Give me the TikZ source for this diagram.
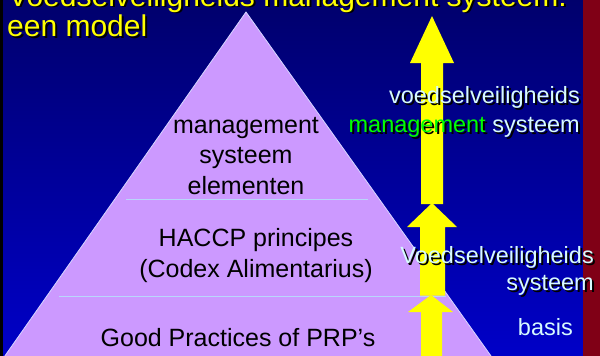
\documentclass[tikz,border=0pt]{standalone}
\usepackage{fontspec}
\setmainfont{Liberation Sans}
\definecolor{bgtop}{RGB}{0,0,108}
\definecolor{bgbot}{RGB}{0,0,200}
\definecolor{stripred}{RGB}{128,0,22}
\definecolor{pyrfill}{RGB}{204,153,255}
\definecolor{pyredge}{RGB}{215,215,255}
\definecolor{divline}{RGB}{185,215,250}
\definecolor{arrowyel}{RGB}{255,255,0}
\definecolor{titleyel}{RGB}{255,255,0}
\definecolor{lblcyan}{RGB}{215,250,255}
\definecolor{lblgreen}{RGB}{0,255,0}
\tikzset{
  ttl/.style={font=\fontsize{30}{36}\selectfont, text=titleyel, anchor=base west, inner sep=0pt},
  lbl/.style={font=\fontsize{23.5}{28}\selectfont, text=lblcyan, anchor=base east, inner sep=0pt},
  pyrtext/.style={font=\fontsize{25}{30}\selectfont, text=black, anchor=base, inner sep=0pt},
  shd/.style={text=black, xshift=2pt, yshift=-2pt},
  uparrow/.style={fill=arrowyel, draw=none},
  divider/.style={draw=divline, line width=0.8pt}
}
\begin{document}
\begin{tikzpicture}[x=1pt,y=-1pt]
\useasboundingbox (0,0) rectangle (600,356);
\begin{scope}
\clip (0,0) rectangle (600,356);
% background
\shade[top color=bgtop, bottom color=bgbot] (0,0) rectangle (600,356);
\fill[black] (0,0) rectangle (3,356);
\fill[stripred] (583,0) rectangle (600,356);
% pyramid
\filldraw[fill=pyrfill, draw=pyredge, line width=0.8pt] (246,12) -- (501,370) -- (-5,370) -- cycle;
\draw[divider] (126,199) -- (368,199);
\draw[divider] (59,296) -- (446,296);
% arrows
\fill[uparrow] (432,16) -- (454,63) -- (443,63) -- (443,204) -- (421,204) -- (421,63) -- (410,63) -- cycle;
\fill[uparrow] (432,203) -- (457,227) -- (445,227) -- (445,295.5) -- (420,295.5) -- (420,227) -- (407,227) -- cycle;
\fill[uparrow] (431,295) -- (453,312) -- (442,312) -- (442,360) -- (421,360) -- (421,312) -- (408,312) -- cycle;
% pyramid texts
\node[pyrtext] (m1) at (246,133) {management};
\node[pyrtext] (m2) at (246,163.5) {systeem};
\node[pyrtext] (m3) at (246,194) {elementen};
\node[pyrtext] (h1) at (256,246) {HACCP principes};
\node[pyrtext] (h2) at (256,277) {(Codex Alimentarius)};
\node[pyrtext] (g1) at (238,346) {Good Practices of PRP’s};
% title
\node[ttl, shd] (t1s) at (8,6) {Voedselveiligheids management systeem:};
\node[ttl] (t1) at (8,6) {Voedselveiligheids management systeem:};
\node[ttl, shd] (t2s) at (7,36) {een model};
\node[ttl] (t2) at (7,36) {een model};
% right labels
\node[lbl, shd] (r1s) at (580,103) {voedselveiligheids};
\node[lbl] (r1) at (580,103) {voedselveiligheids};
\node[lbl, shd] (r2s) at (580,132) {management systeem};
\node[lbl] (r2) at (580,132) {\textcolor{lblgreen}{management} systeem};
\node[lbl, shd] (r3s) at (594,263) {Voedselveiligheids};
\node[lbl] (r3) at (594,263) {Voedselveiligheids};
\node[lbl, shd] (r4s) at (594,290) {systeem};
\node[lbl] (r4) at (594,290) {systeem};
\node[lbl] (r5) at (573,335) {basis};
\end{scope}
\end{tikzpicture}
\end{document}
